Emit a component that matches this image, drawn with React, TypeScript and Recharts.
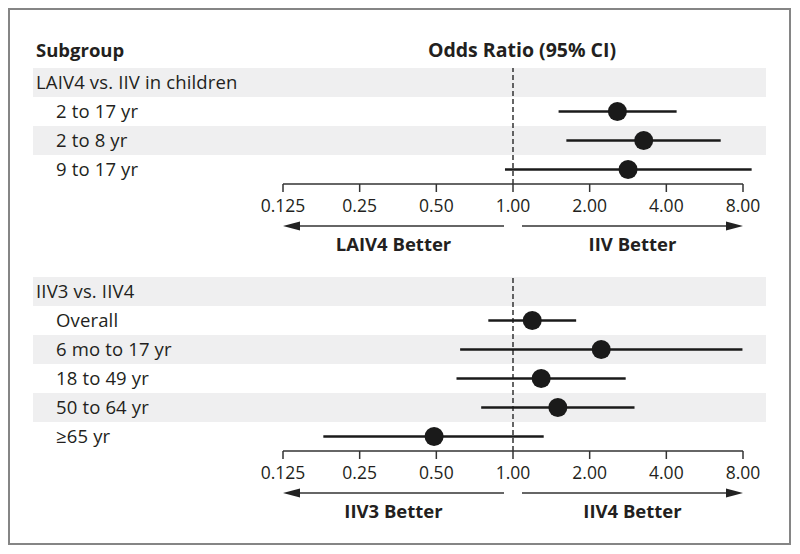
import React from 'react';
import { ScatterChart, Scatter, XAxis, YAxis, ReferenceArea, ReferenceLine } from 'recharts';

const FONT = "'Open Sans', Lato, sans-serif";
const INK = '#231f20';

// odds ratio axis (log scale)
const tickValues = [0.125, 0.25, 0.5, 1, 2, 4, 8];
const tickLabels = ['0.125', '0.25', '0.50', '1.00', '2.00', '4.00', '8.00'];

// panel 1: LAIV4 vs. IIV in children
const laivLabels = ['LAIV4 vs. IIV in children', '2 to 17 yr', '2 to 8 yr', '9 to 17 yr'];
const laivOr = [null, 2.57, 3.26, 2.83];
const laivLow = [null, 1.51, 1.62, 0.93];
const laivHigh = [null, 4.39, 6.54, 8.65];

// panel 2: IIV3 vs. IIV4
const iivLabels = ['IIV3 vs. IIV4', 'Overall', '6 mo to 17 yr', '18 to 49 yr', '50 to 64 yr', '≥65 yr'];
const iivOr = [null, 1.19, 2.22, 1.29, 1.5, 0.49];
const iivLow = [null, 0.8, 0.62, 0.6, 0.75, 0.18];
const iivHigh = [null, 1.77, 7.96, 2.77, 3.0, 1.32];

const ROW_H = 29;
const AXIS_H = 76;

// shaded row band, stretched out past the plot to cover the label column
const BandShape = (props: any) => (
  <rect x={props.x - 250} y={props.y} width={props.width + 273} height={props.height} fill="#efeff0" />
);

const Dot = (props: any) => <circle cx={props.cx} cy={props.cy} r={9.5} fill="#1a1a1a" />;

const renderArrows = (props: any, leftText: string, rightText: string) => {
  const vb = props.viewBox || {};
  const { x, y, width } = vb;
  const mid = x + width / 2;
  const ay = y + 42;
  const ty = y + 61;
  return (
    <g>
      <line x1={x + 10} y1={ay} x2={mid - 9} y2={ay} stroke="#333" strokeWidth={1.5} />
      <polygon points={`${x},${ay} ${x + 17},${ay - 4.5} ${x + 17},${ay + 4.5}`} fill="#222" />
      <line x1={mid + 9} y1={ay} x2={x + width - 10} y2={ay} stroke="#333" strokeWidth={1.5} />
      <polygon
        points={`${x + width},${ay} ${x + width - 17},${ay - 4.5} ${x + width - 17},${ay + 4.5}`}
        fill="#222"
      />
      <text x={(x + mid - 9) / 2} y={ty} dy="0.35em" textAnchor="middle" fontFamily={FONT} fontSize={18.5} fontWeight={700} fill={INK}>
        {leftText}
      </text>
      <text x={(mid + 9 + x + width) / 2} y={ty} dy="0.35em" textAnchor="middle" fontFamily={FONT} fontSize={18.5} fontWeight={700} fill={INK}>
        {rightText}
      </text>
    </g>
  );
};

interface PanelProps {
  labels: string[];
  or: (number | null)[];
  low: (number | null)[];
  high: (number | null)[];
  leftText: string;
  rightText: string;
  top: number;
}

const Panel: React.FC<PanelProps> = ({ labels, or, low, high, leftText, rightText, top }) => {
  const n = labels.length;
  const idx = labels.map((_, i) => i);
  const points = idx.filter((i) => or[i] != null).map((i) => ({ x: or[i], y: i }));

  const renderRowTick = (props: any) => {
    const i = props.payload.value;
    return (
      <text
        x={i === 0 ? 36 : 56}
        y={props.y}
        dy="0.35em"
        textAnchor="start"
        fontFamily={FONT}
        fontSize={18.5}
        letterSpacing={0.15}
        fill={INK}
      >
        {labels[i]}
      </text>
    );
  };

  return (
    <div style={{ position: 'absolute', left: 0, top }}>
      <ScatterChart width={800} height={n * ROW_H + AXIS_H} margin={{ top: 0, right: 57, bottom: 0, left: 0 }}>
        {idx
          .filter((i) => i % 2 === 0)
          .map((i) => (
            <ReferenceArea key={`band-${i}`} y1={i - 0.5} y2={i + 0.5} ifOverflow="visible" shape={BandShape} />
          ))}
        <XAxis
          type="number"
          dataKey="x"
          scale="log"
          domain={[0.125, 8]}
          allowDataOverflow
          ticks={tickValues}
          interval={0}
          tickFormatter={(v: number) => tickLabels[tickValues.indexOf(v)]}
          height={AXIS_H}
          tickSize={8}
          tickMargin={8}
          axisLine={{ stroke: '#333', strokeWidth: 1.5 }}
          tickLine={{ stroke: '#333', strokeWidth: 1.5 }}
          tick={{ fill: INK, fontSize: 17.5, fontFamily: FONT }}
          label={(p: any) => renderArrows(p, leftText, rightText)}
        />
        <YAxis
          type="number"
          dataKey="y"
          domain={[-0.5, n - 0.5]}
          allowDataOverflow
          reversed
          ticks={idx}
          interval={0}
          width={283}
          axisLine={false}
          tickLine={false}
          tick={renderRowTick}
        />
        <ReferenceLine x={1} stroke="#333" strokeWidth={1.5} strokeDasharray="5 3" />
        {points.map((p) => (
          <ReferenceLine
            key={`ci-${p.y}`}
            segment={[
              { x: low[p.y], y: p.y },
              { x: high[p.y], y: p.y },
            ]}
            stroke="#1a1a1a"
            strokeWidth={2.5}
            ifOverflow="visible"
          />
        ))}
        <Scatter data={points} shape={Dot} isAnimationActive={false} />
      </ScatterChart>
    </div>
  );
}

export default function App() {
  return (
    <div style={{ position: 'absolute', left: 0, top: 0, width: 800, height: 554, background: '#fff', fontFamily: FONT, color: INK }}>
      <div
        style={{
          position: 'absolute',
          left: 8,
          top: 8,
          width: 783,
          height: 537,
          border: '2px solid #858585',
          boxSizing: 'border-box',
        }}
      />
      <div style={{ position: 'absolute', left: 36, top: 37, fontSize: 18.5, fontWeight: 700, lineHeight: '26px' }}>Subgroup</div>
      <div
        style={{
          position: 'absolute',
          left: 410,
          width: 224,
          textAlign: 'center',
          top: 37,
          fontSize: 19.5,
          fontWeight: 700,
          lineHeight: '26px',
        }}
      >
        Odds Ratio (95% CI)
      </div>
      <Panel labels={laivLabels} or={laivOr} low={laivLow} high={laivHigh} leftText="LAIV4 Better" rightText="IIV Better" top={68} />
      <Panel labels={iivLabels} or={iivOr} low={iivLow} high={iivHigh} leftText="IIV3 Better" rightText="IIV4 Better" top={277} />
    </div>
  );
}
